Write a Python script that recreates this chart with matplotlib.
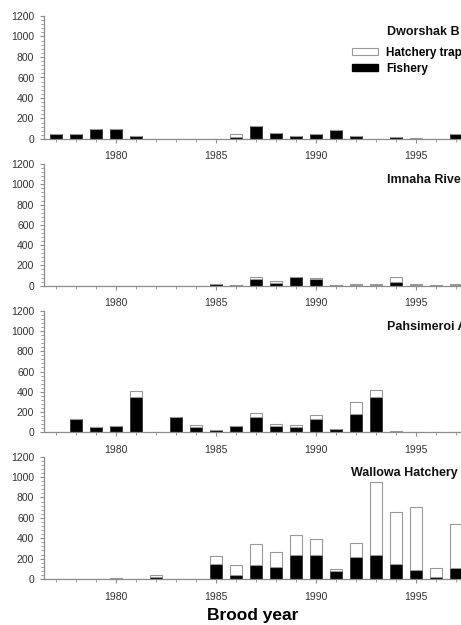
import numpy as np
from matplotlib import pyplot as plt
from matplotlib.patches import Patch
from matplotlib.ticker import MultipleLocator

plt.rcParams['font.family'] = ['Liberation Sans', 'DejaVu Sans']

years = np.arange(1977, 1998)

# Fishery (black) and hatchery trap (white, stacked on top) per brood year
dworshak_fishery = [45, 45, 95, 95, 30, 0, 0, 0, 0, 15, 127, 55, 27, 45, 85, 27, 0, 18, 0, 0, 50]
dworshak_trap = [0, 0, 0, 0, 0, 0, 0, 0, 0, 30, 0, 0, 0, 0, 0, 0, 0, 4, 10, 0, 0]

imnaha_fishery = [0, 0, 0, 0, 0, 0, 0, 0, 15, 2, 63, 30, 83, 70, 2, 10, 2, 40, 2, 0, 2]
imnaha_trap = [0, 0, 0, 0, 0, 0, 0, 0, 0, 8, 25, 20, 5, 6, 8, 5, 10, 48, 18, 8, 16]

pahsimeroi_fishery = [0, 128, 50, 62, 345, 0, 150, 50, 20, 60, 155, 60, 50, 128, 35, 180, 348, 5, 0, 0, 0]
pahsimeroi_trap = [0, 0, 0, 0, 63, 0, 5, 20, 0, 0, 40, 25, 20, 47, 0, 120, 70, 8, 0, 0, 0]

wallowa_fishery = [0, 0, 0, 0, 0, 22, 0, 0, 150, 40, 137, 115, 232, 232, 75, 219, 232, 150, 85, 20, 111]
wallowa_trap = [0, 0, 0, 8, 0, 18, 0, 0, 76, 100, 207, 150, 203, 164, 23, 138, 723, 507, 618, 88, 432]

panels = [
    ("Dworshak B", dworshak_fishery, dworshak_trap),
    ("Imnaha River", imnaha_fishery, imnaha_trap),
    ("Pahsimeroi A", pahsimeroi_fishery, pahsimeroi_trap),
    ("Wallowa Hatchery", wallowa_fishery, wallowa_trap),
]

fig = plt.figure(figsize=(4.61, 6.25), dpi=100)

left = 44 / 461
width = 1 - left
# axes (bottom, top) in pixels from the top of the image
rows = [(139, 16), (285.7, 164), (432.3, 310.7), (579, 456.7)]

grey = "#8c8c8c"
for i, (name, fish, trap) in enumerate(panels):
    b, t = rows[i]
    ax = fig.add_axes([left, 1 - b / 625, width, (b - t) / 625])
    ax.bar(years, fish, width=0.6, color="black", edgecolor="#333333", linewidth=0.6)
    ax.bar(years, trap, bottom=fish, width=0.6, color="white", edgecolor="#999999", linewidth=0.8)

    ax.set_xlim(1976.4, 1997.25)
    ax.set_ylim(0, 1200)
    ax.set_yticks(np.arange(0, 1201, 200))
    ax.yaxis.set_minor_locator(MultipleLocator(40))
    ax.set_xticks([1980, 1985, 1990, 1995])
    ax.xaxis.set_minor_locator(MultipleLocator(1))

    for s in ["top", "right"]:
        ax.spines[s].set_visible(False)
    for s in ["left", "bottom"]:
        ax.spines[s].set_color(grey)
        ax.spines[s].set_linewidth(0.9)

    ax.tick_params(axis="both", which="major", length=3, width=0.8, color=grey,
                   labelsize=7.5, labelcolor="#333333")
    ax.tick_params(axis="both", which="minor", length=2, width=0.6, color=grey)
    ax.tick_params(axis="x", which="major", pad=6)
    ax.tick_params(axis="y", which="major", pad=4)

    # station names run off the right edge, as in the original figure
    ax.text(0.8225 if i != 3 else 0.7355, 1040, name, transform=ax.get_yaxis_transform(),
            fontsize=9, fontweight="bold", va="center", ha="left", color="#111111")

    if i == 0:
        handles = [Patch(facecolor="white", edgecolor="#999999", linewidth=0.8, label="Hatchery trap"),
                   Patch(facecolor="black", edgecolor="black", label="Fishery")]
        ax.legend(handles=handles, loc="upper left", bbox_to_anchor=(0.739, 0.75),
                  frameon=False, prop={"weight": "bold", "size": 8.5},
                  handlelength=2.15, handleheight=0.45, handletextpad=0.7,
                  labelspacing=0.33, borderpad=0, borderaxespad=0)
    if i == 3:
        ax.set_xlabel("Brood year", fontsize=12.5, fontweight="bold", labelpad=5)

fig.savefig("out.png", dpi=100)
